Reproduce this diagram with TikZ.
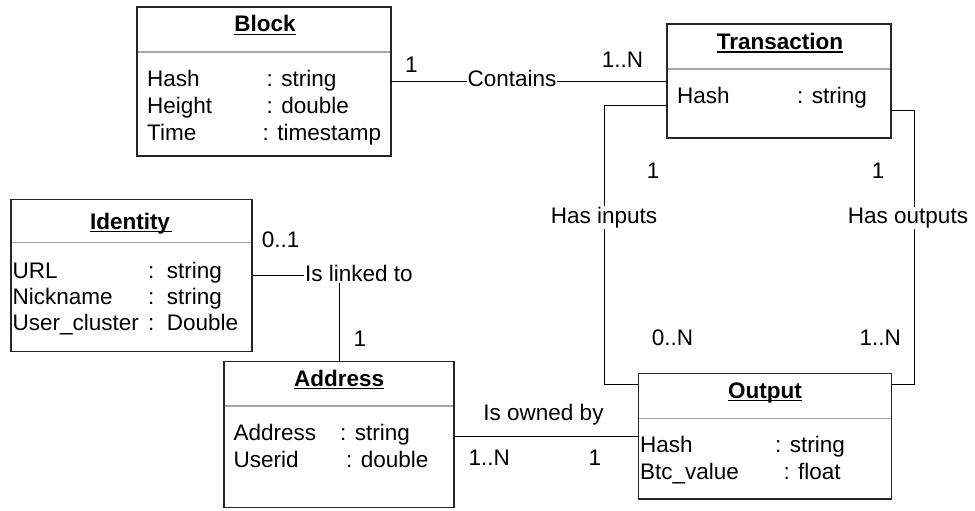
\documentclass[tikz,border=0pt]{standalone}
\usepackage{fontspec}
\setmainfont{Liberation Sans}
\begin{document}
\begin{tikzpicture}[x=1pt,y=-1pt,
  box/.style={draw=black!85,line width=1.1pt,inner sep=0,outer sep=0,anchor=north west},
  sep/.style={draw=black!35,line width=1.2pt},
  txt/.style={inner sep=0,anchor=base west,font=\fontsize{22.5}{26}\selectfont},
  ttl/.style={inner sep=0,anchor=base,font=\fontsize{22.5}{26}\selectfont\bfseries},
  lbl/.style={inner sep=1pt,anchor=base,fill=white,font=\fontsize{22.5}{26}\selectfont},
  conn/.style={draw=black,line width=1pt}]
\useasboundingbox[fill=white] (0,0) rectangle (975,511);

% Block
\node[box,minimum width=254pt,minimum height=149pt] (block) at (137,7) {};
\draw[sep] (138,52) -- (390,52);
\node[ttl] (blockt) at (265,32) {Block};
\draw[line width=1.3pt] ([yshift=-2.5pt]blockt.base west) -- ([yshift=-2.5pt]blockt.base east);
\node[txt] (b1) at (147,87) {Hash};
\node[txt] (b1t) at (266.5,87) {: string};
\node[txt] (b2) at (147,113.5) {Height};
\node[txt] (b2t) at (266.5,113.5) {: double};
\node[txt] (b3) at (147,140) {Time};
\node[txt] (b3t) at (262.5,140) {: timestamp};

% Transaction
\node[box,minimum width=224pt,minimum height=114pt] (trans) at (667,24) {};
\draw[sep] (668,69) -- (890,69);
\node[ttl] (transt) at (780,49.5) {Transaction};
\draw[line width=1.3pt] ([yshift=-2.5pt]transt.base west) -- ([yshift=-2.5pt]transt.base east);
\node[txt] (t1) at (677,103.5) {Hash};
\node[txt] (t1t) at (797,103.5) {: string};

% Identity
\node[box,minimum width=241pt,minimum height=152.5pt] (ident) at (11,199.3) {};
\draw[sep] (12,242.7) -- (251,242.7);
\node[ttl] (identt) at (130,229) {Identity};
\draw[line width=1.3pt] ([yshift=-2.5pt]identt.base west) -- ([xshift=2pt,yshift=-2.5pt]identt.base east);
\node[txt] (i1) at (12.5,278.3) {URL};
\node[txt] (i1c) at (148,278.3) {:};
\node[txt] (i1t) at (166.7,278.3) {string};
\node[txt] (i2) at (12.5,304.5) {Nickname};
\node[txt] (i2c) at (148,304.5) {:};
\node[txt] (i2t) at (166.7,304.5) {string};
\node[txt] (i3) at (12.5,330.7) {User\_cluster};
\node[txt] (i3c) at (148,330.7) {:};
\node[txt] (i3t) at (166.7,330.7) {Double};

% Address
\node[box,minimum width=230pt,minimum height=146pt] (addr) at (224,361.7) {};
\draw[sep] (225,406) -- (453,406);
\node[ttl] (addrt) at (339.2,386) {Address};
\draw[line width=1.3pt] ([yshift=-2.5pt]addrt.base west) -- ([yshift=-2.5pt]addrt.base east);
\node[txt] (a1) at (233.5,440) {Address};
\node[txt] (a1t) at (340,440) {: string};
\node[txt] (a2) at (233.5,467) {Userid};
\node[txt] (a2t) at (346,467) {: double};

% Output
\node[box,minimum width=253.5pt,minimum height=125.7pt] (outp) at (638.3,373.3) {};
\draw[sep] (639,418.3) -- (891,418.3);
\node[ttl] (outpt) at (765,398.3) {Output};
\draw[line width=1.3pt] ([yshift=-2.5pt]outpt.base west) -- ([yshift=-2.5pt]outpt.base east);
\node[txt] (o1) at (640,452.7) {Hash};
\node[txt] (o1t) at (775,452.7) {: string};
\node[txt] (o2) at (640,479.3) {Btc\_value};
\node[txt] (o2t) at (783.3,479.3) {: float};

% Contains
\draw[conn] (block.east) -- (block.east -| trans.west);
\node[lbl] (contains) at (512,87) {Contains};
\node[txt] (c1) at (405,72.3) {1};
\node[txt] (c2) at (601.7,67.7) {1..N};

% Has inputs
\coordinate (hia) at (604,105.7);
\coordinate (hib) at (604,384);
\draw[conn] (trans.west |- hia) -- (hia) -- (hib) -- (outp.west |- hib);
\node[lbl] (hasin) at (604,223.3) {Has inputs};
\node[txt] (hi1) at (646.7,178.3) {1};
\node[txt] (hi2) at (651.7,345) {0..N};

% Has outputs
\coordinate (hoa) at (914,110.7);
\coordinate (hob) at (914,384);
\draw[conn] (trans.east |- hoa) -- (hoa) -- (hob) -- (outp.east |- hob);
\node[lbl] (hasout) at (908,223.3) {Has outputs};
\node[txt] (ho1) at (871.7,178.3) {1};
\node[txt] (ho2) at (859.3,345) {1..N};

% Is linked to
\coordinate (ilc) at (339,275);
\draw[conn] (ident.east |- ilc) -- (ilc) -- (addr.north);
\node[lbl] (linked) at (359,281.7) {Is linked to};
\node[txt] (il1) at (261.7,247.3) {0..1};
\node[txt] (il2) at (353.3,346.7) {1};

% Is owned by
\coordinate (ob) at (454,436);
\draw[conn] (ob) -- (outp.west |- ob);
\node[txt,anchor=base] (owned) at (543.5,420) {Is owned by};
\node[txt] (ob1) at (468.3,465) {1..N};
\node[txt] (ob2) at (588.3,465) {1};
\end{tikzpicture}
\end{document}
